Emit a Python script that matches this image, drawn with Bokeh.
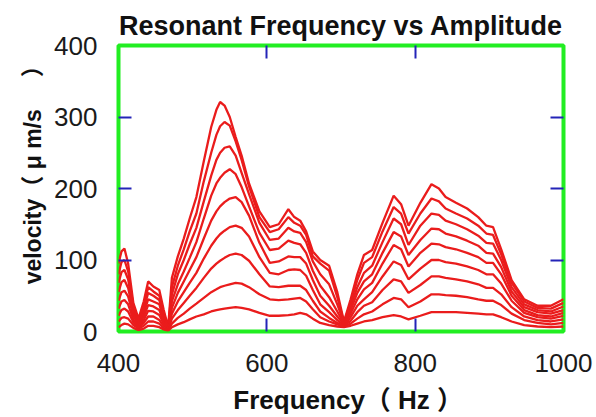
from bokeh.plotting import figure
from bokeh.models import LinearAxis, FixedTicker, Range1d, Grid
from bokeh.embed import file_html
from bokeh.resources import INLINE

# Frequency grid (Hz)
freq = [400, 404, 408, 413, 420, 427, 434, 440, 447, 455, 461, 467, 472, 480, 488, 496, 505, 515, 525, 532,
        537, 543, 550, 558, 566, 576, 590, 604, 616, 629, 637, 645, 653, 662, 672, 684, 695, 704, 713, 722,
        731, 742, 756, 771, 781, 791, 807, 822, 832, 841, 855, 870, 885, 896, 905, 916, 930, 947, 965, 983, 1000]

# Velocity (um/s) for each drive amplitude, largest first
v1 = [95, 112, 116, 95, 40, 18, 42, 70, 63, 58, 30, 6, 75, 105, 130, 158, 188, 238, 286, 310,
      321, 316, 300, 272, 246, 207, 168, 146, 150, 171, 160, 155, 140, 112, 100, 92, 55, 14, 45, 80,
      107, 114, 152, 190, 178, 148, 180, 206, 200, 188, 180, 172, 160, 148, 146, 115, 72, 45, 36, 36, 45]
v2 = [80, 97, 100, 84, 35, 16, 36, 62, 56, 50, 26, 5, 62, 92, 115, 140, 165, 210, 250, 275,
      287, 293, 288, 266, 240, 203, 160, 139, 143, 160, 152, 148, 135, 105, 95, 85, 48, 13, 40, 72,
      96, 104, 140, 174, 165, 137, 165, 186, 182, 172, 165, 158, 148, 137, 135, 108, 68, 42, 33, 32, 40]
v3 = [68, 83, 86, 73, 30, 14, 31, 54, 50, 44, 22, 5, 52, 80, 100, 122, 145, 182, 218, 240,
      250, 257, 259, 246, 222, 192, 152, 128, 130, 145, 140, 138, 125, 98, 80, 66, 38, 12, 35, 62,
      82, 92, 125, 158, 150, 121, 148, 165, 163, 155, 150, 143, 134, 124, 123, 100, 62, 38, 30, 28, 35]
v4 = [55, 69, 72, 61, 26, 11, 26, 45, 42, 38, 18, 4, 42, 66, 84, 103, 125, 158, 190, 207,
      215, 222, 227, 220, 202, 175, 138, 114, 116, 127, 124, 122, 110, 85, 64, 48, 28, 11, 30, 54,
      70, 80, 110, 139, 133, 107, 128, 144, 143, 137, 133, 127, 120, 110, 109, 90, 56, 34, 27, 25, 30]
v5 = [43, 55, 57, 49, 22, 9, 21, 37, 35, 30, 14, 3, 33, 54, 70, 86, 104, 130, 155, 168,
      175, 181, 186, 188, 181, 162, 124, 96, 98, 105, 104, 104, 95, 72, 50, 36, 21, 10, 25, 45,
      59, 68, 95, 121, 115, 91, 110, 123, 122, 118, 115, 110, 104, 96, 96, 80, 50, 30, 23, 21, 26]
v6 = [32, 42, 44, 38, 17, 7, 16, 29, 28, 23, 11, 3, 25, 42, 55, 68, 82, 102, 120, 130,
      136, 141, 146, 148, 145, 133, 104, 82, 80, 86, 87, 86, 78, 58, 38, 27, 16, 9, 20, 36,
      45, 55, 77, 98, 93, 73, 88, 100, 100, 97, 95, 91, 86, 80, 80, 67, 43, 26, 20, 18, 22]
v7 = [22, 30, 32, 28, 13, 5, 12, 21, 21, 16, 8, 2, 18, 30, 40, 50, 61, 75, 88, 95,
      99, 103, 107, 109, 107, 99, 80, 63, 62, 64, 64, 64, 58, 43, 28, 19, 12, 8, 15, 27,
      36, 41, 58, 73, 70, 54, 65, 77, 77, 75, 73, 70, 66, 61, 61, 52, 34, 21, 16, 14, 17]
v8 = [14, 19, 20, 18, 9, 4, 8, 14, 14, 11, 5, 2, 11, 19, 25, 32, 39, 47, 55, 59,
      62, 64, 66, 68, 67, 62, 52, 45, 44, 45, 46, 47, 42, 31, 20, 14, 10, 7, 11, 18,
      24, 28, 38, 47, 45, 34, 42, 52, 52, 51, 50, 48, 45, 43, 43, 37, 25, 16, 12, 10, 12]
v9 = [6, 9, 11, 10, 5, 2, 4, 8, 8, 6, 3, 1, 6, 10, 13, 17, 21, 24, 28, 30,
      31, 32, 33, 34, 33, 31, 26, 22, 22, 23, 24, 26, 24, 18, 12, 9, 7, 6, 8, 11,
      14, 16, 20, 23, 21, 17, 22, 27, 27, 27, 27, 26, 25, 24, 24, 20, 14, 9, 7, 6, 7]
series = [v1, v2, v3, v4, v5, v6, v7, v8, v9]

x_ticks = [400, 600, 800, 1000]
y_ticks = [0, 100, 200, 300, 400]
x_inner_ticks = [600, 800]
y_inner_ticks = [100, 200, 300]

NB = "\u00a0"
x_label = NB * 2 + "Frequency（ Hz ）"
y_label = NB * 6 + "velocity（" + NB + "μ" + NB + "m/s" + NB * 5 + "）"

FONT = "Liberation Sans, Noto Sans CJK SC"
TICK_BLUE = "#2424b8"
RED = "#ea1c1c"

p = figure(width=596, height=417, output_backend="svg", toolbar_location=None,
           x_range=Range1d(400, 1000), y_range=Range1d(0, 400),
           x_axis_location=None, y_axis_location=None,
           min_border_left=118, min_border_right=33, min_border_top=45, min_border_bottom=82)
for r in list(p.center):
    if isinstance(r, Grid):
        r.visible = False

p.outline_line_color = "#22ee22"
p.outline_line_width = 4
p.outline_line_alpha = 1.0
p.background_fill_color = "white"
p.border_fill_color = "white"

p.title.text = "Resonant Frequency vs Amplitude"
p.title.text_font = FONT
p.title.text_font_size = "27px"
p.title.text_font_style = "bold"
p.title.align = "center"
p.title.text_color = "#111111"


def make_axis(ticks, inner, label=None, standoff=0, label_size="26px", label_standoff=0):
    ax = LinearAxis(ticker=FixedTicker(ticks=ticks, minor_ticks=inner))
    ax.axis_line_color = None
    ax.major_tick_in = 0
    ax.major_tick_out = 0
    ax.major_tick_line_color = None
    ax.minor_tick_in = 13
    ax.minor_tick_out = 0
    ax.minor_tick_line_color = TICK_BLUE
    ax.minor_tick_line_width = 2
    ax.major_label_text_font = FONT
    ax.major_label_text_font_size = "26px"
    ax.major_label_text_color = "#1a1a1a"
    ax.major_label_standoff = standoff
    if label:
        ax.axis_label = label
        ax.axis_label_text_font = FONT
        ax.axis_label_text_font_size = label_size
        ax.axis_label_text_font_style = "bold"
        ax.axis_label_text_color = "#111111"
        ax.axis_label_standoff = label_standoff
    return ax


p.add_layout(make_axis(x_ticks, x_inner_ticks, x_label, 22, "26px", 10), "below")
yax = make_axis(y_ticks, y_inner_ticks, y_label, 21, "23px", 5)
yax.major_label_orientation = "horizontal"
p.add_layout(yax, "left")
top_ax = make_axis([], x_inner_ticks)
top_ax.major_tick_out = 5  # no major ticks drawn; only reserves room under the title
p.add_layout(top_ax, "above")
p.add_layout(make_axis([], y_inner_ticks), "right")

for v in series:
    p.line(freq, v, line_color=RED, line_width=2.3)

open("out.html", "w").write(file_html(p, INLINE))
